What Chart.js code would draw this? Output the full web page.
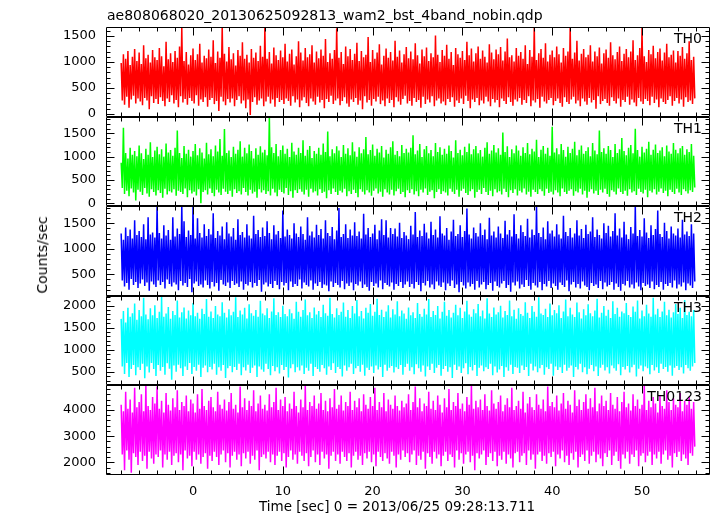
<!DOCTYPE html>
<html><head><meta charset="utf-8">
<script src="https://cdn.jsdelivr.net/npm/chart.js@4.4.1/dist/chart.umd.min.js"></script>
<style>
html,body{margin:0;padding:0;background:#fff;}
#wrap{position:relative;width:717px;height:516px;overflow:hidden;font-family:"DejaVu Sans",sans-serif;color:#000;background:#fff;}
#wrap canvas{position:absolute;left:0;}
.txt{position:absolute;white-space:nowrap;line-height:1;}
</style></head><body>
<div id="wrap"></div>
<script>
// ---------------- data ----------------
const plotTitle = 'ae808068020_20130625092813_wam2_bst_4band_nobin.qdp';
const xTitle = 'Time [sec] 0 = 2013/06/25 09:28:13.711';
const yTitle = 'Counts/sec';
const panelNames = ['TH0', 'TH1', 'TH2', 'TH3', 'TH0123'];
const seriesColors = ['#ff0000', '#00ff00', '#0000ff', '#00ffff', '#ff00ff'];
const timeStart = -8;       // sec, first sample
const timeStep = 0.125;     // sec between samples
const xTickLabels = [0, 10, 20, 30, 40, 50];
const yTickLabels = [
  [0, 500, 1000, 1500],
  [0, 500, 1000, 1500],
  [500, 1000, 1500],
  [500, 1000, 1500, 2000],
  [2000, 3000, 4000]
];
const yRangeMin = [-58, -58, 75, 198, 1515];
const yRangeMax = [1673, 1850, 1840, 2220, 4955];
const yMinorStep = [100, 100, 100, 100, 200];

// counts/sec, one sample every 0.125 s from -8 s (read as alternating highs / lows)
const th0 = [
 980,260,1150,180,1060,330,1210,120,940,280,1100,350,1250,200,1020,300,
 1180,240,960,170,1320,310,1070,260,1140,90,990,340,1230,210,1090,290,
 1040,190,1270,320,1110,250,920,150,1390,300,1050,230,1170,360,1000,200,
 1210,270,1080,130,1300,340,1660,220,1020,290,1190,180,950,310,1130,250,
 1260,200,1040,360,1150,160,1350,280,990,230,1120,320,1070,140,1240,270,
 1100,310,1420,190,980,250,1200,60,1080,330,1690,240,1160,170,1010,290,
 1290,220,1050,300,1170,150,930,270,1230,340,1120,200,1380,260,1060,110,
 1140,280,990,-20,1250,230,1080,320,1180,180,1020,260,1310,300,1100,150,
 1670,240,1060,330,1190,200,970,280,1280,140,1130,310,1040,230,1220,270,
 1090,190,1350,300,1010,250,1160,160,1240,340,950,220,1110,280,1400,130,
 1180,260,1030,320,1270,210,1090,150,1150,300,1320,240,990,180,1200,330,
 1070,220,1240,270,1120,110,1440,290,1000,230,1170,350,1060,190,1230,260,
 1650,300,1080,170,1190,250,960,320,1300,200,1110,140,1250,280,1040,230,
 1160,310,1370,180,1020,260,1210,90,1090,340,1140,220,1480,270,1000,160,
 1230,290,1060,240,1180,330,1340,190,950,260,1120,150,1260,300,1080,210,
 1190,270,1030,130,1410,320,1100,240,1220,180,990,290,1150,350,1290,200,
 1070,250,1200,160,1050,310,1360,230,1130,270,970,120,1240,330,1110,190,
 1280,280,1020,220,1170,340,1090,150,1510,260,1140,300,1000,200,1230,240,
 1120,170,1330,290,1060,230,1190,320,940,140,1270,260,1150,210,1080,300,
 1210,190,1040,350,1390,250,1130,110,1260,280,1010,230,1170,310,1300,170,
 1060,260,1220,200,1100,330,990,240,1340,150,1180,290,1050,220,1240,270,
 1150,130,1290,300,1030,250,1200,190,1450,320,1090,230,1130,160,1010,280,
 1270,240,1120,310,1190,180,1060,270,1320,210,960,340,1230,150,1100,260,
 1680,220,1040,290,1170,120,1250,330,1080,240,1360,200,1010,270,1140,310,
 1220,170,1090,250,1300,300,1150,210,990,140,1270,320,1120,230,1200,190,
 1660,280,1060,330,1180,200,1410,260,1030,150,1160,300,1250,240,1090,180,
 1140,310,1320,220,1010,270,1200,100,1110,340,1280,190,970,250,1170,290,
 1240,210,1080,160,1380,320,1130,250,1050,200,1190,300,1300,140,1020,270,
 1160,230,1250,330,1090,180,1200,280,1420,220,1040,150,1130,310,1270,240,
 1670,190,1110,290,1000,250,1230,170,1150,330,1310,210,1070,280,1190,130,
 1260,300,1030,230,1180,190,1350,270,1090,340,1140,160,1220,250,990,310,
 1210,200,1120,280,1290,140,1060,320,1170,230,1400,260,1040,190,1100,300
];
const th1 = [
 870,330,1620,200,1080,270,960,150,1190,320,1040,230,1120,60,1010,290,
 1240,250,1070,180,950,330,1170,210,1040,140,1310,300,990,240,1130,170,
 1210,280,1050,220,1160,120,1000,310,1280,190,1090,260,1140,230,1020,300,
 1190,160,1560,270,1080,240,970,200,1230,320,1060,130,1150,280,1000,210,
 1120,250,1270,170,1030,300,1180,0,1090,240,960,280,1300,190,1050,320,
 1160,220,1010,150,1240,290,1110,230,1380,180,1020,310,1590,250,1080,200,
 1130,270,990,140,1210,300,1060,220,1150,260,1330,190,1000,330,1190,240,
 1070,170,1260,290,1120,210,960,250,1180,120,1040,300,1220,230,1090,280,
 1150,200,1030,260,1860,170,1200,310,1080,230,1270,150,1010,290,1140,240,
 1240,210,1060,330,1170,180,990,260,1300,120,1110,280,1040,220,1190,300,
 1080,250,1350,190,1020,290,1150,140,1230,310,970,230,1120,260,1060,170,
 1190,300,1040,220,1280,250,1100,110,1540,280,1010,200,1160,320,1070,240,
 1220,180,1130,270,990,230,1250,310,1060,150,1180,260,1030,200,1310,290,
 1110,220,1000,130,1200,300,1070,250,1160,190,1420,280,1050,230,1140,160,
 1260,270,1020,320,1170,210,1090,250,1230,140,980,300,1150,230,1060,190,
 1200,290,1330,170,1040,260,1120,310,1010,200,1250,240,1080,130,1170,280,
 1090,220,1190,300,1460,190,1050,260,1130,150,1270,290,990,230,1160,320,
 1230,180,1070,250,1140,280,1010,110,1290,240,1100,300,1200,200,1040,260,
 1170,230,1060,170,1240,310,1120,250,980,200,1350,290,1080,140,1150,270,
 1030,310,1210,220,1100,180,1280,260,1050,300,1160,120,1230,240,1070,290,
 1140,200,1000,330,1190,240,1310,180,1060,270,1130,150,1250,300,1090,230,
 1180,260,1040,190,1520,310,1100,240,1220,130,990,280,1160,220,1070,300,
 1240,170,1130,270,1020,230,1200,320,1080,190,1290,250,1050,140,1170,290,
 1110,240,1360,200,990,300,1150,260,1230,160,1060,310,1190,220,1020,250,
 1640,190,1090,280,1180,230,1050,150,1270,320,1140,240,1000,200,1210,270,
 1080,300,1170,160,1320,260,1030,230,1150,310,1240,190,1060,270,1120,120,
 1200,250,1010,300,1290,210,1130,270,1050,180,1560,290,1100,230,1180,310,
 1060,200,1230,140,1140,280,990,250,1270,190,1080,320,1160,240,1400,200,
 1120,270,1030,160,1190,300,1250,230,1070,260,1600,180,1140,310,1000,240,
 1210,210,1090,290,1170,130,1320,270,1040,230,1150,300,1260,190,1080,250,
 1130,320,1200,220,1010,270,1240,150,1110,290,1060,240,1290,200,1150,310,
 1070,230,1180,180,1230,300,1040,260,1160,210,1100,280,1270,240,1020,340
];
const th2 = [
 1300,380,1180,260,1420,330,1250,200,1380,410,1200,290,1560,350,1270,230,
 1350,320,1230,400,1480,270,1190,340,1620,180,1280,360,1320,300,1220,250,
 1850,380,1310,290,1200,350,1460,220,1260,400,1370,310,1180,260,1620,340,
 1240,300,1400,190,1290,370,1850,280,1540,330,1230,250,1360,410,1270,150,
 1850,320,1200,360,1600,270,1310,300,1220,240,1480,380,1250,290,1390,220,
 1280,350,1700,260,1210,330,1350,180,1260,390,1440,300,1190,270,1520,340,
 1300,230,1240,370,1410,290,1180,320,1580,250,1270,360,1330,200,1220,310,
 1480,280,1260,350,1200,240,1650,330,1290,270,1370,390,1230,160,1420,300,
 1250,340,1540,260,1310,310,1190,230,1460,370,1280,290,1350,210,1210,350,
 1750,280,1240,330,1380,190,1270,360,1200,250,1500,310,1300,270,1230,400,
 1440,220,1290,340,1180,290,1620,260,1260,380,1340,200,1220,320,1470,270,
 1270,350,1390,230,1200,300,1560,280,1310,170,1250,360,1430,250,1190,330,
 1360,290,1800,240,1230,370,1290,210,1480,320,1210,270,1380,340,1260,190,
 1520,310,1250,280,1340,360,1200,230,1690,300,1280,250,1410,180,1230,350,
 1300,270,1470,320,1190,240,1360,380,1580,210,1270,330,1560,290,1220,260,
 1410,340,1290,200,1400,310,1240,270,1510,350,1210,230,1330,300,1260,360,
 1190,250,1450,310,1280,220,1720,350,1230,290,1360,170,1250,330,1490,280,
 1320,370,1200,240,1530,300,1270,210,1380,360,1220,280,1640,250,1300,340,
 1260,190,1410,320,1180,270,1340,380,1570,230,1250,300,1290,150,1460,350,
 1230,280,1350,220,1790,340,1280,260,1200,310,1420,200,1310,370,1240,240,
 1500,300,1270,350,1380,210,1190,290,1610,330,1260,180,1340,360,1220,270,
 1440,240,1300,320,1210,370,1550,230,1280,290,1370,160,1240,340,1680,280,
 1290,360,1200,220,1460,300,1330,250,1250,390,1590,270,1220,200,1380,330,
 1270,280,1850,240,1310,350,1230,190,1420,310,1190,260,1540,370,1300,230,
 1360,320,1240,270,1480,200,1280,340,1200,290,1650,250,1330,380,1250,170,
 1410,300,1220,350,1300,240,1560,310,1260,220,1390,360,1210,280,1470,250,
 1290,190,1340,330,1620,270,1230,300,1380,230,1270,370,1200,210,1500,340,
 1310,260,1450,290,1240,350,1350,200,1700,320,1260,250,1400,180,1220,310,
 1530,280,1280,370,1190,240,1430,300,1300,220,1850,340,1250,260,1370,190,
 1240,330,1600,270,1320,300,1210,230,1460,360,1270,210,1390,290,1750,250,
 1290,350,1230,200,1510,310,1350,270,1200,330,1440,240,1300,380,1260,220,
 1400,300,1220,260,1570,340,1280,190,1340,320,1250,280,1480,230,1300,360
];
const th3 = [
 1700,620,1880,450,1620,700,1950,380,1750,560,1830,650,2050,420,1680,600,
 1900,540,1760,680,2180,350,1800,620,1690,480,1940,700,1780,560,2010,400,
 1720,650,1860,520,2200,610,1750,430,1820,690,1970,570,1700,320,1880,640,
 1790,500,2120,660,1730,580,1850,400,1960,620,1710,540,1890,700,1780,450,
 2060,610,1760,520,1840,660,1700,380,1930,590,1810,640,2150,490,1750,610,
 1870,550,1720,680,1990,430,1800,600,1760,520,2080,650,1840,360,1730,580,
 1920,630,1780,490,1860,610,2190,540,1740,680,1890,420,1800,600,1950,530,
 1710,660,2030,470,1830,590,1770,640,1900,380,1750,620,2110,550,1820,500,
 1780,680,1940,560,1720,420,1870,630,2170,510,1790,600,1850,460,1740,650,
 2000,540,1810,610,1760,370,1920,580,1830,670,1700,490,2090,600,1860,530,
 1750,640,1900,450,2140,590,1780,520,1850,680,1720,400,1960,610,1800,560,
 1880,500,1740,650,2020,580,1830,430,1770,620,2180,540,1810,690,1730,470,
 1940,610,1790,560,1860,390,2070,640,1750,520,1900,600,1720,680,1990,450,
 1820,580,2130,630,1760,500,1880,660,1710,410,1950,590,1840,540,2040,620,
 1770,470,1860,640,2160,550,1790,610,1910,380,1740,660,1870,520,2010,590,
 1730,630,1920,480,1800,600,2100,560,1760,650,1890,430,1820,610,1700,680,
 1960,520,1780,600,1850,440,1720,670,2060,580,1810,500,1750,640,1930,390,
 1800,620,2150,540,1740,680,1880,470,1790,590,1990,650,1710,410,1860,560,
 2090,630,1770,500,1900,600,1730,360,1840,660,2020,540,1780,620,1950,470,
 1720,580,1870,690,2110,440,1800,610,1750,530,1920,650,1830,400,2040,590,
 1760,640,1890,510,1710,600,2170,560,1820,680,1740,420,1960,620,1800,480,
 1850,550,2000,630,1730,380,1880,600,1790,520,2120,660,1760,450,1910,610,
 1700,590,1940,470,1810,640,1770,540,2080,610,1840,400,1720,680,1990,530,
 1860,620,1750,490,2190,580,1820,650,1790,430,1930,600,1740,560,2050,680,
 1780,410,1900,620,1830,540,2010,600,1720,470,1870,660,2140,520,1760,590,
 1950,640,1800,380,1740,610,2070,550,1850,680,1710,490,1920,600,1780,440,
 2030,570,1830,650,1760,510,1890,620,2160,400,1730,590,1840,660,1990,530,
 1770,600,1910,460,1720,640,2100,580,1810,520,1950,670,1750,420,1870,610,
 1830,550,2060,630,1790,480,1740,600,1980,660,1860,390,2120,570,1710,640,
 1890,510,1760,620,2020,580,1820,440,1750,650,2180,530,1800,600,1930,470,
 1740,680,1870,560,2090,610,1780,500,1910,640,1730,410,1850,590,2040,630,
 1810,540,1950,600,1720,460,2130,650,1790,580,1860,520,1760,620,1900,700
];
const th0123 = [
 4200,2300,3950,1700,4700,2450,4050,2100,4400,1600,3900,2350,4850,2200,4100,1900,
 4300,2400,4600,2050,3950,2250,4950,1750,4150,2400,4000,2150,4500,1950,4250,2300,
 4900,2200,4050,2450,4350,1800,3900,2300,4650,2100,4200,2400,3980,1900,4450,2250,
 4100,2350,4750,2000,4000,2300,4300,1700,4150,2450,4550,2150,3950,2250,4400,1850,
 4250,2400,3900,2100,4600,2300,4050,1950,4800,2200,4150,2350,4000,1750,4350,2250,
 4500,2050,4100,2400,3950,2200,4700,1900,4200,2300,4050,2450,4400,2000,3980,2350,
 4300,1800,4650,2250,4050,2400,4200,2100,3900,2300,4900,1850,4100,2350,4450,2150,
 4000,2400,4350,1950,4150,2250,4750,2100,3950,2450,4250,1700,4550,2200,4050,2300,
 4200,2150,3980,2400,4600,2000,4100,2300,4300,1900,4850,2250,4000,2400,4400,2050,
 4150,2350,4500,1800,3950,2200,4250,2450,4050,2100,4700,2300,4150,1950,3900,2400,
 4400,2250,4100,2050,4950,2350,4000,1850,4300,2200,4150,2450,4550,2000,4050,2300,
 4250,1900,4650,2400,4000,2150,4350,2300,3950,1750,4450,2250,4100,2400,4800,2050,
 4050,2300,4200,1950,4550,2400,3980,2200,4300,2050,4150,2350,4700,1800,4000,2250,
 4350,2400,4100,2100,4450,2250,3950,1900,4600,2350,4200,2150,4050,2400,4500,2000,
 4150,2300,4850,1850,4000,2400,4300,2200,4100,2050,4650,2350,3950,2150,4400,1950,
 4200,2400,4050,2250,4550,1800,4150,2300,3980,2100,4350,2450,4100,2200,4250,2350,
 4600,2000,4000,2300,4300,2450,4900,1900,4100,2250,4450,2100,3950,2400,4250,1750,
 4150,2350,4700,2200,4050,1950,4350,2400,4000,2150,4550,2300,4200,1850,3900,2250,
 4450,2400,4100,2050,4800,2300,4000,2200,4300,1800,4150,2450,4650,2100,4050,2350,
 4250,1950,3950,2300,4500,2400,4200,2000,4950,2250,4050,1700,4350,2350,4100,2150,
 4400,2300,4000,2450,4600,1900,4150,2200,3980,2350,4750,2050,4250,2400,4050,1850,
 4300,2250,4550,2100,3950,2400,4200,1950,4450,2300,4100,2150,4850,1800,4000,2350,
 4150,2400,4350,2000,4050,2250,4700,2350,3900,1900,4250,2450,4500,2100,4100,2300,
 4000,1750,4600,2300,4200,2400,4050,2050,4400,2250,3950,1950,4900,2350,4150,2200,
 4300,2400,4100,1850,4550,2300,3980,2150,4250,2450,4650,2000,4050,2250,4350,1900,
 4200,2350,3900,2100,4750,2400,4150,1800,4400,2200,4000,2300,4300,2050,4600,2450,
 4050,1950,4450,2250,4100,2400,4850,2000,3950,2300,4250,2150,4550,1850,4150,2350,
 4350,2200,4000,2450,4650,1900,4200,2250,4050,2400,4500,2050,3950,1750,4300,2300,
 4700,2150,4100,2400,4250,1950,3980,2300,4600,2200,4150,2450,4400,1850,4050,2250,
 4200,2350,4950,2000,4000,2250,4350,2400,4100,1900,4500,2300,4250,2150,3900,2400,
 4550,1950,4150,2300,4050,2450,4750,2100,4300,2250,4000,1800,4450,2350,4200,2200,
 4100,2400,4650,2050,3950,2300,4350,2150,4200,1900,4500,2350,4050,2250,4300,2600
];
const allSeries = [th0, th1, th2, th3, th0123];

// ---------------- layout ----------------
const W = 717;
const panelTop = [27, 117, 206, 296, 385];
const panelBottom = [117, 206, 296, 385, 475];
const xMin = -9.69, xMax = 57.57;
const FONT = '"DejaVu Sans", sans-serif';

const wrap = document.getElementById('wrap');
function addText(text, css) {
  const d = document.createElement('div');
  d.className = 'txt';
  d.textContent = text;
  Object.assign(d.style, css);
  wrap.appendChild(d);
  return d;
}

const framePlugin = {
  id: 'frameTicks',
  afterDatasetsDraw(chart, args, opts) {
    const {ctx, chartArea: a, scales} = chart;
    const xs = scales.x, ys = scales.y;
    const L = Math.round(a.left) + 0.5, R = Math.round(a.right) - 0.5;
    const T = Math.round(a.top) + 0.5, B = Math.round(a.bottom) - 0.5;
    ctx.save();
    ctx.strokeStyle = '#000';
    ctx.lineWidth = 1;
    ctx.beginPath();
    ctx.moveTo(L, T); ctx.lineTo(R, T); ctx.lineTo(R, B); ctx.lineTo(L, B); ctx.closePath();
    for (let v = -8; v <= 56; v += 2) {
      const px = Math.round(xs.getPixelForValue(v)) + 0.5;
      const len = (v % 10 === 0) ? 8 : 4;
      ctx.moveTo(px, T); ctx.lineTo(px, T + len);
      ctx.moveTo(px, B); ctx.lineTo(px, B - len);
    }
    const step = opts.minor, major = opts.major;
    for (let v = Math.ceil(ys.min / step) * step; v <= ys.max; v += step) {
      const py = Math.round(ys.getPixelForValue(v)) + 0.5;
      const len = (Math.abs(v % major) < 1e-6) ? 8 : 4;
      ctx.moveTo(L, py); ctx.lineTo(L + len, py);
      ctx.moveTo(R, py); ctx.lineTo(R - len, py);
    }
    ctx.stroke();
    ctx.restore();
  }
};

const PAD_T = 10, PAD_B = 10, X_AXIS_H = 32;
function noPad(s) { s.paddingTop = 0; s.paddingBottom = 0; s.paddingLeft = 0; s.paddingRight = 0; }

allSeries.forEach((vals, i) => {
  const last = i === allSeries.length - 1;
  const h = panelBottom[i] - panelTop[i];
  const cH = PAD_T + h + (last ? X_AXIS_H : PAD_B);
  const cv = document.createElement('canvas');
  cv.width = W; cv.height = cH;
  cv.style.top = (panelTop[i] - PAD_T) + 'px';
  cv.style.width = W + 'px'; cv.style.height = cH + 'px';
  wrap.appendChild(cv);

  const pts = vals.map((v, k) => ({x: timeStart + k * timeStep, y: v}));
  const majorStep = yTickLabels[i][1] - yTickLabels[i][0];

  const xScale = {
    type: 'linear',
    min: xMin, max: xMax,
    display: last,
    grid: {display: false, drawTicks: false},
    border: {display: false},
    afterBuildTicks: s => { s.ticks = xTickLabels.map(v => ({value: v})); },
    afterFit: s => { noPad(s); if (last) s.height = X_AXIS_H; },
    ticks: {
      color: '#000', padding: 9, maxRotation: 0, autoSkip: false,
      font: {family: FONT, size: 13},
      callback: v => String(v)
    }
  };

  new Chart(cv, {
    type: 'line',
    data: {
      datasets: [{
        data: pts,
        borderColor: seriesColors[i],
        borderWidth: 1.5,
        borderJoinStyle: 'bevel',
        pointRadius: 0,
        tension: 0,
        fill: false
      }]
    },
    options: {
      responsive: false,
      devicePixelRatio: 1,
      animation: false,
      parsing: false,
      normalized: true,
      layout: {padding: {top: PAD_T, bottom: last ? 0 : PAD_B, left: 0, right: 7}},
      plugins: {
        legend: {display: false},
        tooltip: {enabled: false},
        frameTicks: {minor: yMinorStep[i], major: majorStep}
      },
      scales: {
        x: xScale,
        y: {
          type: 'linear',
          min: yRangeMin[i], max: yRangeMax[i],
          grid: {display: false, drawTicks: false},
          border: {display: false},
          afterBuildTicks: s => { s.ticks = yTickLabels[i].map(v => ({value: v})); },
          afterFit: s => { noPad(s); s.width = 106; },
          ticks: {
            color: '#000', padding: 10, autoSkip: false,
            font: {family: FONT, size: 13},
            callback: v => String(v)
          }
        }
      }
    },
    plugins: [framePlugin]
  });

  addText(panelNames[i], {right: '15px', top: (panelTop[i] + 4.3) + 'px', fontSize: '14px'});
});

addText(plotTitle, {left: '107px', top: '8.2px', fontSize: '14px'});
addText(xTitle, {left: '397px', top: '499.6px', fontSize: '13.5px', transform: 'translateX(-50%)'});
addText(yTitle, {left: '42px', top: '255px', fontSize: '14px', transform: 'translate(-50%,-50%) rotate(-90deg)'});
</script>
</body></html>
